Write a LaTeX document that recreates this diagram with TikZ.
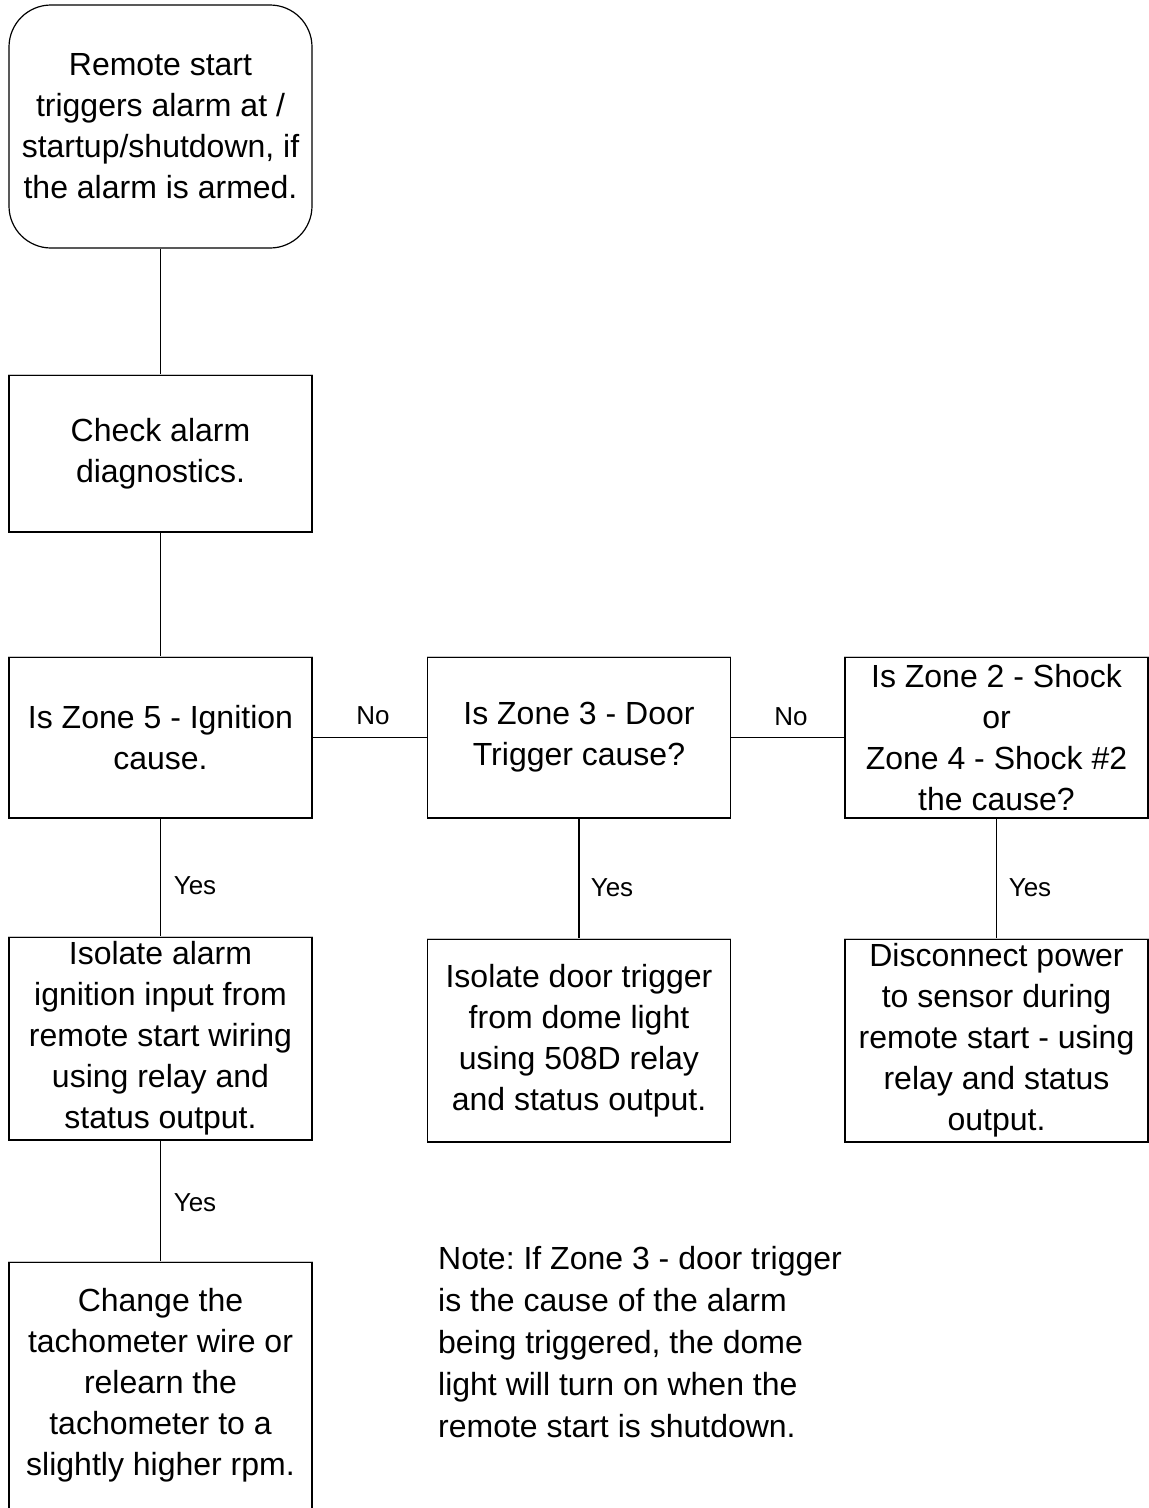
\documentclass[tikz,border=0pt]{standalone}
\usepackage{fontspec}
\setmainfont{Liberation Sans}
\frenchspacing
\begin{document}
\begin{tikzpicture}[x=1pt,y=-1pt,
  box/.style={draw=black,line width=1.2pt,inner sep=0pt,minimum width=303pt,align=center,
    font=\fontsize{32}{41}\selectfont},
  rbox/.style={box,rounded corners=42pt},
  lbl/.style={inner sep=0pt,font=\fontsize{26}{30}\selectfont},
  conn/.style={line width=1.2pt},
  topedge/.style={draw=black!22,line width=1.4pt}]
\useasboundingbox[fill=white] (0,0) rectangle (1149,1508);

\node[rbox,minimum height=243pt] (b1) at (160.5,126.5)
  {Remote start\\triggers alarm at /\\startup/shutdown, if\\the alarm is armed.};
\node[box,minimum height=157pt] (b2) at (160.5,453.5) {Check alarm\\diagnostics.};
\node[box,minimum height=161pt] (b3) at (160.5,737.5) {Is Zone 5 - Ignition\\cause.};
\node[box,minimum height=161pt] (b4) at (579,737.5) {Is Zone 3 - Door\\Trigger cause?};
\node[box,minimum height=161pt] (b5) at (996.5,737.5)
  {Is Zone 2 - Shock\\or\\Zone 4 - Shock \#2\\the cause?};
\node[box,minimum height=203pt] (b6) at (160.5,1038.5)
  {Isolate alarm\\ignition input from\\remote start wiring\\using relay and\\status output.};
\node[box,minimum height=203pt] (b7) at (579,1040.5)
  {Isolate door trigger\\from dome light\\using 508D relay\\and status output.};
\node[box,minimum height=203pt] (b8) at (996.5,1040.5)
  {Disconnect power\\to sensor during\\remote start - using\\relay and status\\output.};
\node[box,minimum height=247pt] (b9) at (160.5,1385.5)
  {Change the\\tachometer wire or\\relearn the\\tachometer to a\\slightly higher rpm.};

\foreach \b in {b2,b3,b4,b5,b6,b7,b8,b9}
  \draw[topedge] (\b.north west) -- (\b.north east);

\node[anchor=west,inner sep=0pt,align=left,font=\fontsize{32}{42}\selectfont] (note) at (438,1342)
  {Note: If Zone 3 - door trigger\\is the cause of the alarm\\being triggered, the dome\\light will turn on when the\\remote start is shutdown.};

\draw[conn] (b1.south) -- (b2.north);
\draw[conn] (b2.south) -- (b3.north);
\draw[conn] (b3.east) -- (b4.west);
\draw[conn] (b4.east) -- (b5.west);
\draw[conn] (b3.south) -- (b6.north);
\draw[conn] (b4.south) -- (b7.north);
\draw[conn] (b5.south) -- (b8.north);
\draw[conn] (b6.south) -- (b9.north);

\node[lbl] (no1) at (373,716) {No};
\node[lbl] (no2) at (791,717) {No};
\node[lbl] (y1) at (195,886) {Yes};
\node[lbl] (y2) at (612,888) {Yes};
\node[lbl] (y3) at (1030,888) {Yes};
\node[lbl] (y4) at (195,1203) {Yes};
\end{tikzpicture}
\end{document}
